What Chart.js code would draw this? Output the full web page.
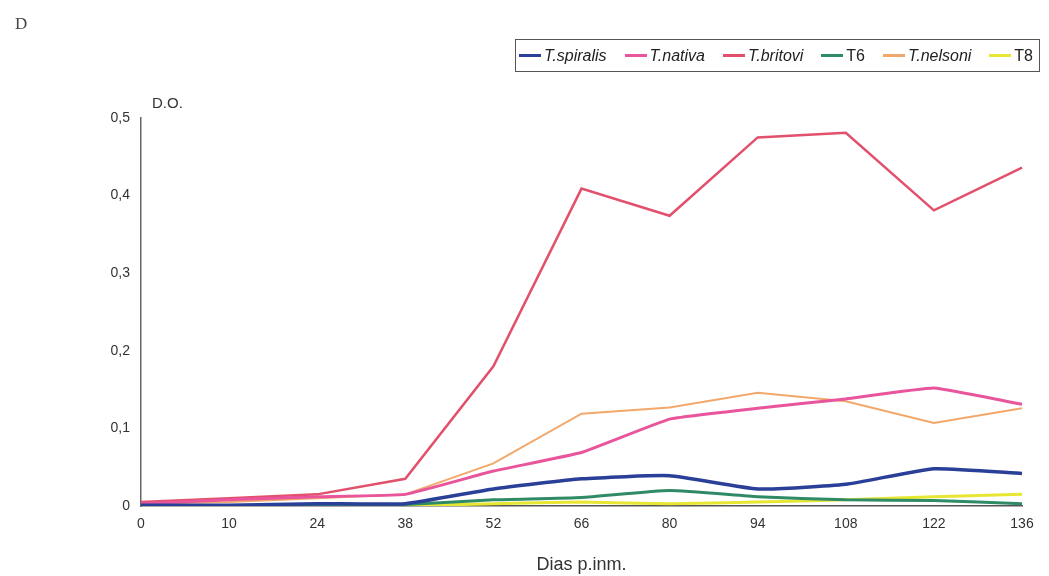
<!DOCTYPE html>
<html>
<head>
<meta charset="utf-8">
<script src="https://cdn.jsdelivr.net/npm/chart.js@4.4.1/dist/chart.umd.min.js"></script>
<style>
  html, body { margin: 0; padding: 0; background: #fff; }
  #wrap { position: relative; width: 1049px; height: 576px; font-family: 'Liberation Sans', Arial, sans-serif; }
  #c { position: absolute; left: 0; top: 0; }
  .panel { position: absolute; left: 15px; top: 14px; font-family: 'Liberation Serif', 'DejaVu Serif', serif; font-size: 17px; color: #444; }
  .yunit { position: absolute; left: 152px; top: 94px; font-size: 15px; color: #333; }
  #legend {
    position: absolute; left: 515px; top: 39px; width: 525px; height: 33px;
    border: 1.5px solid #555; box-sizing: border-box;
    display: flex; align-items: center; justify-content: space-between; padding: 0 6px 0 3px;
    font-size: 16px; color: #222; white-space: nowrap;
  }
  #legend .it { display: flex; align-items: center; }
  #legend .ln { display: inline-block; width: 22px; height: 3px; margin-right: 3px; }
  #legend i { font-style: italic; }
</style>
</head>
<body>
<div id="wrap">
  <canvas id="c" width="1049" height="576"></canvas>
  <div class="panel">D</div>
  <div class="yunit">D.O.</div>
  <div id="legend"></div>
</div>
<script>
/* ── Data ──────────────────────────────────────────────────────────── */
const DAYS     = ['0', '10', '24', '38', '52', '66', '80', '94', '108', '122', '136'];
const SPIRALIS = [0.001, 0.001, 0.003, 0.003, 0.022, 0.035, 0.039, 0.022, 0.028, 0.048, 0.042];
const NATIVA   = [0.003, 0.008, 0.012, 0.015, 0.045, 0.069, 0.112, 0.126, 0.138, 0.152, 0.131];
const BRITOVI  = [0.005, 0.010, 0.015, 0.035, 0.180, 0.409, 0.374, 0.475, 0.481, 0.381, 0.436];
const T6       = [0.000, 0.000, 0.000, 0.002, 0.008, 0.011, 0.020, 0.012, 0.008, 0.007, 0.003];
const NELSONI  = [0.003, 0.005, 0.010, 0.015, 0.055, 0.119, 0.127, 0.146, 0.135, 0.107, 0.126];
const T8       = [0.000, 0.000, 0.000, 0.000, 0.003, 0.005, 0.003, 0.005, 0.008, 0.012, 0.015];
const Y_TICKS  = [0, 0.1, 0.2, 0.3, 0.4, 0.5];

const SERIES = [
    { label: 'T.spiralis', data: SPIRALIS, color: '#2a3f98', w: 3.5, it: true,  t: 0.15 },
    { label: 'T.nativa',   data: NATIVA,   color: '#e8559c', w: 3,   it: true,  t: 0.1 },
    { label: 'T.britovi',  data: BRITOVI,  color: '#e2506c', w: 2.5, it: true,  t: 0 },
    { label: 'T6',         data: T6,       color: '#2f8a66', w: 3,   it: false, t: 0.15 },
    { label: 'T.nelsoni',  data: NELSONI,  color: '#f2a86a', w: 2,   it: true,  t: 0 },
    { label: 'T8',         data: T8,       color: '#e6e633', w: 3,   it: false, t: 0.1 },
];

/* ── HTML legend (mixed italic / upright labels) ───────────────────── */
const lg = document.getElementById('legend');
SERIES.forEach(s => {
    const d = document.createElement('span');
    d.className = 'it';
    d.innerHTML = `<span class="ln" style="background:${s.color}"></span>` +
        (s.it ? `<i>${s.label}</i>` : `<span>${s.label}</span>`);
    lg.appendChild(d);
});

/* ── Chart ─────────────────────────────────────────────────────────── */
Chart.defaults.font.family = "'Liberation Sans', Arial, sans-serif";

new Chart(document.getElementById('c'), {
    type: 'line',
    data: {
        labels: DAYS,
        datasets: SERIES.map(s => ({
            label: s.label,
            data: s.data,
            borderColor: s.color,
            backgroundColor: s.color,
            borderWidth: s.w,
            pointRadius: 0,
            tension: s.t,
            fill: false,
        })),
    },
    options: {
        responsive: false,
        animation: false,
        layout: { padding: { left: 0, top: 118, right: 27, bottom: 0 } },
        plugins: { legend: { display: false }, tooltip: { enabled: false } },
        scales: {
            x: {
                offset: false,
                grid: { display: false, drawTicks: false },
                border: { display: true, color: '#555', width: 1.5 },
                ticks: { color: '#333', font: { size: 14 }, padding: 10, maxRotation: 0, autoSkip: false },
                title: { display: true, text: 'Dias p.inm.', color: '#333', font: { size: 18 }, padding: { top: 10, bottom: 0 } },
                afterFit: sc => { sc.height = 70; },
            },
            y: {
                min: 0, max: 0.5,
                afterBuildTicks: sc => { sc.ticks = Y_TICKS.map(v => ({ value: v })); },
                grid: { display: false, drawTicks: false },
                border: { display: true, color: '#666', width: 1.5 },
                ticks: {
                    color: '#333', font: { size: 14 }, padding: 11,
                    callback: v => String(v).replace('.', ','),
                },
                afterFit: sc => { sc.width = 141; },
            },
        },
    },
});
</script>
</body>
</html>
